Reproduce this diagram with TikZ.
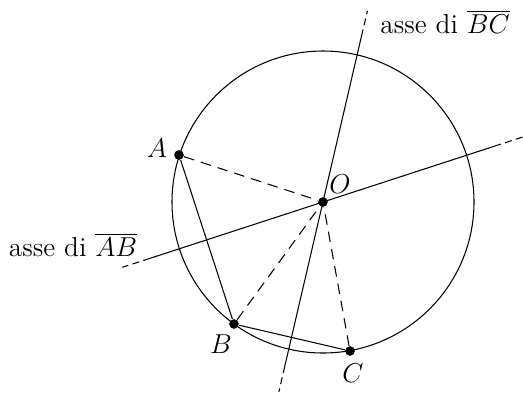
\documentclass[tikz,border=0pt]{standalone}
\usetikzlibrary{calc}
\begin{document}
\begin{tikzpicture}[x=0.02cm,y=-0.02cm,
  pt/.style={circle,fill=black,inner sep=0pt,minimum size=5.5pt},
  lbl/.style={font=\Large,scale=1.08},
  axislbl/.style={font=\Large,scale=1.08},
  dsh/.style={dashed,dash pattern=on 6pt off 4pt},
  ext/.style={dash pattern=on 4pt off 2.5pt,dash phase=-2.5pt},
  every path/.style={line width=0.6pt}]
\useasboundingbox (0,0) rectangle (523,393);
\coordinate (O) at (323,202);
\draw (O) circle[radius=151*0.02cm];
\node[pt] (A) at (179,155) {};
\node[pt] (B) at (234,324) {};
\node[pt] (C) at (350,351) {};
\node[pt] (Op) at (O) {};
% axis of AB
\coordinate (ab1) at (143.3,260.5);
\coordinate (ab1e) at (122.3,267.3);
\coordinate (ab2) at (500.8,144.1);
\coordinate (ab2e) at (522.7,137);
% axis of BC
\coordinate (bc1) at (363,29.6);
\coordinate (bc1e) at (367.4,11);
\coordinate (bc2) at (283.2,373);
\coordinate (bc2e) at (278.8,392);
\draw (ab1) -- (ab2);
\draw[ext] (ab1) -- (ab1e);
\draw[ext] (ab2) -- (ab2e);
\draw (bc1) -- (bc2);
\draw[ext] (bc1) -- (bc1e);
\draw[ext] (bc2) -- (bc2e);
\draw (A) -- (B) -- (C);
\draw[dsh] (A) -- (Op);
\draw[dsh] (B) -- (Op);
\draw[dsh] (C) -- (Op);
\node[lbl] (lA) at (157,148) {$A$};
\node[lbl] (lB) at (221,344) {$B$};
\node[lbl] (lC) at (353,373) {$C$};
\node[lbl] (lO) at (340,184) {$O$};
\node[axislbl] (tbc) at (445,22) {asse di $\overline{BC}$};
\node[axislbl] (tab) at (73,245) {asse di $\overline{AB}$};
\end{tikzpicture}
\end{document}
